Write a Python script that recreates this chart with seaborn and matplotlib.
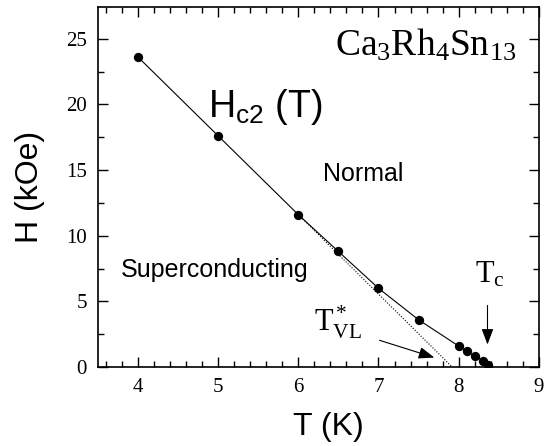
import matplotlib
matplotlib.use("Agg")
import matplotlib.pyplot as plt
import seaborn as sns
import pandas as pd
from matplotlib.ticker import MultipleLocator

# Data
T_K = [4.0, 5.0, 6.0, 6.5, 7.0, 7.5, 8.0, 8.1, 8.2, 8.3, 8.37]
H_kOe = [23.6, 17.6, 11.6, 8.8, 6.0, 3.6, 1.6, 1.2, 0.85, 0.48, 0.12]
vl_T = [6.0, 7.92]
vl_H = [11.6, 0.0]
x_ticks = [4, 5, 6, 7, 8, 9]
y_ticks = [0, 5, 10, 15, 20, 25]

sns.set_theme(style="white")
plt.rcParams["mathtext.fontset"] = "custom"
plt.rcParams["mathtext.rm"] = "Liberation Serif"
plt.rcParams["mathtext.it"] = "Liberation Serif:italic"
plt.rcParams["mathtext.sf"] = "Liberation Sans"
plt.rcParams["font.family"] = ["Liberation Sans", "DejaVu Sans"]
plt.rcParams["text.color"] = "black"
plt.rcParams["axes.labelcolor"] = "black"

fig = plt.figure(figsize=(5.47, 4.46), dpi=100)
ax = fig.add_axes([0.179, 0.177, 0.806, 0.807])

df = pd.DataFrame({"T": T_K, "H": H_kOe})
dv = pd.DataFrame({"T": vl_T, "H": vl_H})
sns.lineplot(data=dv, x="T", y="H", ax=ax, color="black", lw=0.8, linestyle=(0, (1, 1.5)))
sns.lineplot(data=df, x="T", y="H", ax=ax, color="black", lw=0.8)
sns.scatterplot(data=df, x="T", y="H", ax=ax, color="black", s=45, edgecolor="black", linewidth=0, zorder=5)

ax.set_xlim(3.5, 9.0)
ax.set_ylim(0, 27.4)
ax.set_xticks(x_ticks)
ax.set_yticks(y_ticks)
ax.xaxis.set_minor_locator(MultipleLocator(0.2))
ax.yaxis.set_minor_locator(MultipleLocator(2.5))
ax.tick_params(which="both", direction="in", top=True, right=True, bottom=True, left=True,
               color="black", width=1.0)
ax.tick_params(which="major", length=7, pad=8)
ax.tick_params(which="minor", length=4)
for lab in ax.get_xticklabels() + ax.get_yticklabels():
    lab.set_fontfamily("Liberation Serif")
    lab.set_fontsize(15)
    lab.set_color("black")
for s in ax.spines.values():
    s.set_color("black")
    s.set_linewidth(1.2)

ax.set_xlabel("T (K)", fontsize=23, color="black")
ax.set_ylabel("H (kOe)", fontsize=23, color="black")
ax.xaxis.set_label_coords(0.523, -0.125)
ax.yaxis.set_label_coords(-0.12, 0.5)

ax.text(8.72, 24.5, r"$\mathrm{Ca_3Rh_4Sn_{13}}$", fontsize=27, ha="right", va="center")
ax.text(4.87, 19.0, r"$\mathsf{H_{c2}}$ (T)", fontsize=27, ha="left", va="baseline")
ax.text(6.31, 14.2, "Normal", fontsize=18, ha="left", va="baseline")
ax.text(3.78, 6.85, "Superconducting", fontsize=18, ha="left", va="baseline")
ax.text(8.21, 6.4, r"$\mathrm{T_c}$", fontsize=22, ha="left", va="baseline")
ax.text(6.19, 2.67, r"$\mathrm{T^*_{VL}}$", fontsize=22, ha="left", va="baseline")

ax.annotate("", xy=(8.36, 1.5), xytext=(8.36, 4.9),
            arrowprops=dict(arrowstyle="-|>,head_length=0.8,head_width=0.3", color="black", lw=0.8))
ax.annotate("", xy=(7.73, 0.66), xytext=(6.98, 2.1),
            arrowprops=dict(arrowstyle="-|>,head_length=0.8,head_width=0.3", color="black", lw=0.8))

fig.savefig("out.png", dpi=100)
